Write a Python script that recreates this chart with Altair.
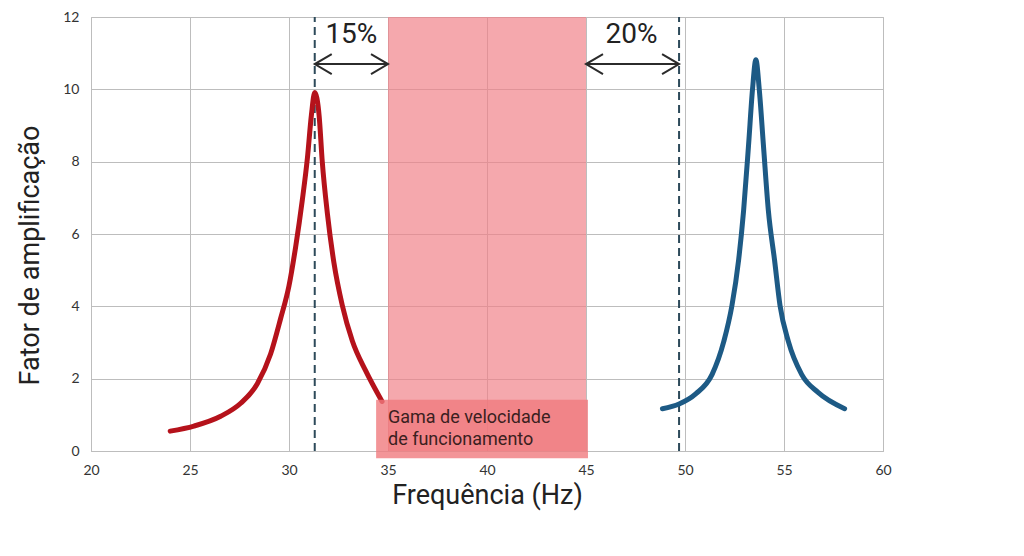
import altair as alt
import pandas as pd

# Red resonance curve (lower mode)
red_x = [24.0, 25.2, 26.55, 27.56, 28.4, 29.07, 29.58, 30.0, 30.34, 30.67, 30.93, 31.13, 31.3,
         31.52, 31.68, 31.94, 32.27, 32.69, 33.2, 33.87, 34.7]
red_y = [0.55, 0.69, 0.96, 1.32, 1.86, 2.68, 3.67, 4.57, 5.66, 6.93, 8.1, 9.28, 9.91,
         9.28, 8.0, 6.56, 5.2, 4.03, 3.04, 2.22, 1.37]

# Blue resonance curve (upper mode)
blue_x = [48.86, 49.7, 50.54, 51.37, 51.96, 52.37, 52.71, 52.96, 53.21, 53.41, 53.58,
          53.75, 53.96, 54.21, 54.52, 54.8, 55.22, 55.89, 56.72, 58.06]
blue_y = [1.17, 1.30, 1.58, 2.12, 3.03, 4.02, 5.29, 6.65, 8.46, 10.0, 10.82,
          10.0, 8.46, 6.65, 5.29, 4.02, 3.03, 2.12, 1.62, 1.17]

band_start, band_end = 35, 45
dashed_x = [31.3, 49.7]
arrow_y = 10.7
arrow_from = [31.3, 45.0]
arrow_to = [35.0, 49.7]
pct_labels = ["15%", "20%"]
pct_x = [33.15, 47.3]
pct_y = 11.5
box_x = [34.4, 45.1]
box_y = [-0.2, 1.42]
box_lines = ["Gama de velocidade", "de funcionamento"]
box_line_y = [0.9, 0.3]
box_text_x = 35.0

x_ticks = [20, 25, 30, 35, 40, 45, 50, 55, 60]
y_ticks = [0, 2, 4, 6, 8, 10, 12]

xs = alt.Scale(domain=[20, 60], nice=False)
ys = alt.Scale(domain=[0, 12], nice=False)

xaxis = alt.Axis(values=x_ticks, title="Frequência (Hz)", grid=True, gridColor="#bdbdbd",
                 domainColor="#bdbdbd", ticks=False, labelPadding=12, labelFont="Lato",
                 labelFontSize=14, labelColor="#333333", labelFlush=False,
                 titleFont="Roboto", titleFontSize=27,
                 titleFontWeight="normal", titleColor="#222222", titleY=44,
                 titleBaseline="middle", zindex=0)
yaxis = alt.Axis(values=y_ticks, title="Fator de amplificação", grid=True, gridColor="#bdbdbd",
                 domain=False, ticks=False, labelPadding=12, labelFont="Lato",
                 labelFontSize=14, labelColor="#333333", labelFlush=False,
                 titleFont="Roboto", titleFontSize=27,
                 titleFontWeight="normal", titleColor="#222222", titleX=-61, titleY=238,
                 titleBaseline="middle", zindex=0)

band_df = pd.DataFrame({"x": [band_start], "x2": [band_end], "y": [0], "y2": [12]})
band = alt.Chart(band_df).mark_rect(color="#f07f86", opacity=0.68).encode(
    x=alt.X("x:Q", scale=xs, axis=xaxis), x2="x2:Q",
    y=alt.Y("y:Q", scale=ys, axis=yaxis), y2="y2:Q")

box_df = pd.DataFrame({"x": [box_x[0]], "x2": [box_x[1]], "y": [box_y[0]], "y2": [box_y[1]]})
box = alt.Chart(box_df).mark_rect(color="#f07a7e", opacity=0.8).encode(
    x=alt.X("x:Q", scale=xs), x2="x2:Q", y=alt.Y("y:Q", scale=ys), y2="y2:Q")

box_txt_df = pd.DataFrame({"t": box_lines, "y": box_line_y, "x": [box_text_x] * 2})
box_txt = alt.Chart(box_txt_df).mark_text(align="left", baseline="middle", font="Roboto",
                                          fontSize=18, color="#3a2020").encode(
    x=alt.X("x:Q", scale=xs), y=alt.Y("y:Q", scale=ys), text="t:N")

dash_df = pd.DataFrame({"x": dashed_x, "y": [0, 0], "y2": [12, 12]})
dashes = alt.Chart(dash_df).mark_rule(color="#2d4a5a", strokeWidth=2, strokeDash=[8, 5]).encode(
    x=alt.X("x:Q", scale=xs), y=alt.Y("y:Q", scale=ys), y2="y2:Q")

curve_df = pd.concat([
    pd.DataFrame({"x": red_x, "y": red_y, "s": "red"}),
    pd.DataFrame({"x": blue_x, "y": blue_y, "s": "blue"}),
])
curves = alt.Chart(curve_df).mark_line(strokeWidth=5, strokeCap="round", strokeJoin="round",
                                       interpolate="monotone").encode(
    x=alt.X("x:Q", scale=xs), y=alt.Y("y:Q", scale=ys),
    color=alt.Color("s:N", scale=alt.Scale(domain=["red", "blue"], range=["#b5121b", "#1d5a85"]),
                    legend=None),
    detail="s:N")

arrow_df = pd.DataFrame({"x": arrow_from, "x2": arrow_to, "y": [arrow_y] * 2})
arrows = alt.Chart(arrow_df).mark_rule(color="#2b2b2b", strokeWidth=2).encode(
    x=alt.X("x:Q", scale=xs), x2="x2:Q", y=alt.Y("y:Q", scale=ys))

head_r_df = pd.DataFrame({"x": arrow_to, "y": [arrow_y] * 2})
head_l_df = pd.DataFrame({"x": arrow_from, "y": [arrow_y] * 2})
head_r = alt.Chart(head_r_df).mark_point(shape="M-1.7,-1L0,0L-1.7,1", size=400, filled=False,
                                         stroke="#2b2b2b", strokeWidth=2, opacity=1).encode(
    x=alt.X("x:Q", scale=xs), y=alt.Y("y:Q", scale=ys))
head_l = alt.Chart(head_l_df).mark_point(shape="M1.7,-1L0,0L1.7,1", size=400, filled=False,
                                         stroke="#2b2b2b", strokeWidth=2, opacity=1).encode(
    x=alt.X("x:Q", scale=xs), y=alt.Y("y:Q", scale=ys))

pct_df = pd.DataFrame({"t": pct_labels, "x": pct_x, "y": [pct_y] * 2})
pct = alt.Chart(pct_df).mark_text(font="Roboto", fontSize=28, color="#222222",
                                  baseline="middle").encode(
    x=alt.X("x:Q", scale=xs), y=alt.Y("y:Q", scale=ys), text="t:N")

chart = alt.layer(band, dashes, curves, box, box_txt, arrows, head_r, head_l, pct).properties(
    width=792, height=434,
    autosize=alt.AutoSizeParams(type="none"),
    padding={"left": 83, "top": 9, "right": 10, "bottom": 60},
    background="white",
).configure_view(stroke="#bdbdbd")

chart.save("out.html", embed_options={"renderer": "svg", "actions": False})
